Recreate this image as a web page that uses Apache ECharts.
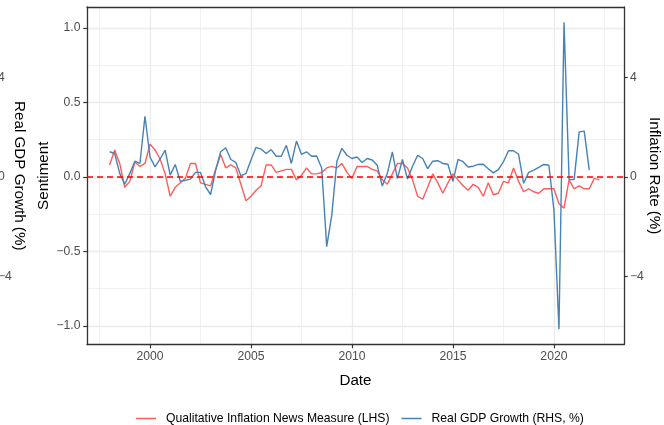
<!DOCTYPE html>
<html>
<head>
<meta charset="utf-8">
<script src="https://cdn.jsdelivr.net/npm/echarts@6/dist/echarts.min.js"></script>
<style>
  html, body { margin: 0; padding: 0; background: #fff; }
  #chart { width: 664px; height: 425px; }
</style>
</head>
<body>
<div id="chart"></div>
<script>
// quarterly observations, first quarter 1998Q1
const startYear = 1998
// qualitative inflation news measure (sentiment, LHS)
const inflationNews = [
  0.08, 0.18, 0.09, -0.07, -0.03, 0.10, 0.07, 0.09,
  0.22, 0.18, 0.12, 0.02, -0.13, -0.07, -0.04, -0.01,
  0.09, 0.09, -0.04, -0.05, -0.06, 0.05, 0.15, 0.06,
  0.08, 0.06, -0.05, -0.16, -0.13, -0.09, -0.06, 0.08,
  0.08, 0.03, 0.04, 0.05, 0.05, -0.02, 0.01, 0.06,
  0.02, 0.02, 0.03, 0.06, 0.07, 0.06, 0.09, 0.03,
  -0.01, 0.07, 0.07, 0.07, 0.05, 0.04, -0.02, -0.05,
  0.02, 0.09, 0.09, 0.06, -0.02, -0.13, -0.15, -0.07,
  0.02, -0.04, -0.11, -0.04, 0.02, -0.02, -0.06, -0.09,
  -0.05, -0.07, -0.13, -0.04, -0.12, -0.11, -0.03, -0.04,
  0.06, -0.03, -0.10, -0.08, -0.10, -0.11, -0.08, -0.08,
  -0.08, -0.18, -0.21, -0.02, -0.08, -0.06, -0.08, -0.08,
  -0.01, -0.02
]
// real GDP growth, % (RHS)
const gdpGrowth = [
  1.01, 0.94, 0.14, -0.30, 0.14, 0.63, 0.54, 2.44,
  0.80, 0.40, 0.72, 1.08, 0.07, 0.50, -0.18, -0.14,
  -0.09, 0.18, 0.18, -0.40, -0.71, 0.27, 1.01, 1.17,
  0.70, 0.58, 0.04, 0.14, 0.68, 1.19, 1.12, 0.94,
  1.10, 0.83, 0.83, 1.27, 0.54, 1.44, 0.91, 1.01,
  0.83, 0.84, 0.36, -2.81, -1.54, 0.61, 1.15, 0.87,
  0.74, 0.80, 0.58, 0.74, 0.68, 0.47, -0.37, 0.14,
  1.01, -0.07, 0.70, -0.09, 0.43, 0.87, 0.74, 0.33,
  0.63, 0.65, 0.54, 0.51, -0.18, 0.70, 0.61, 0.40,
  0.43, 0.50, 0.51, 0.33, 0.16, 0.29, 0.61, 1.05,
  1.05, 0.91, -0.26, 0.18, 0.27, 0.38, 0.50, 0.47,
  -1.34, -6.13, 6.22, -0.11, -0.11, 1.81, 1.84, 0.27
]
const yearTicks = [2000, 2005, 2010, 2015, 2020]
const yearMinor = [1997.5, 2002.5, 2007.5, 2012.5, 2017.5, 2022.5]
const sentTicks = [-1, -0.5, 0, 0.5, 1]
const sentMinor = [-0.75, -0.25, 0.25, 0.75]
const rateTicks = [-4, 0, 4]
const seriesNames = ['Qualitative Inflation News Measure (LHS)', 'Real GDP Growth (RHS, %)']

const FONT = 'Liberation Sans'
const minus = (s) => String(s).replace('-', '\u2212')
const pairs = (vals) => vals.map((v, i) => [startYear + i * 0.25, v])

const chart = echarts.init(document.getElementById('chart'))
const border = { show: true, onZero: false, lineStyle: { color: '#333333', width: 1.3 } }
const grey = '#EBEBEB'

chart.setOption({
  backgroundColor: '#fff',
  animation: false,
  textStyle: { fontFamily: FONT },
  grid: { left: 87, right: 40, top: 7, bottom: 80.5, outerBoundsMode: 'none', containLabel: false },
  legend: {
    data: seriesNames,
    icon: 'rect',
    left: 136,
    top: 412.5,
    padding: 0,
    itemWidth: 20,
    itemHeight: 1.5,
    itemGap: 12,
    textStyle: { fontSize: 12.2, color: '#000', fontFamily: FONT, padding: [0, 0, 0, 5] }
  },
  xAxis: [{
    type: 'value',
    min: 1996.88,
    max: 2023.47,
    position: 'bottom',
    name: 'Date',
    nameLocation: 'middle',
    nameGap: 29,
    nameMoveOverlap: false,
    nameTextStyle: { fontSize: 15.2, color: '#000', fontFamily: FONT },
    axisLine: border,
    axisTick: { show: true, length: 3.8, customValues: yearTicks, lineStyle: { color: '#333333', width: 1.2 } },
    axisLabel: {
      customValues: yearTicks, margin: 6.5, fontSize: 12.2, color: '#4D4D4D', fontFamily: FONT,
      formatter: (v) => String(v)
    },
    splitLine: { show: true, lineStyle: { color: grey, width: 1.3 } }
  }, {
    // minor vertical grid + top border
    type: 'value',
    min: 1996.88,
    max: 2023.47,
    position: 'top',
    axisLine: border,
    axisTick: { show: false, customValues: yearMinor },
    axisLabel: { show: false },
    splitLine: { show: true, lineStyle: { color: grey, width: 0.7 } }
  }],
  yAxis: [{
    type: 'value',
    min: -1.125,
    max: 1.14,
    position: 'left',
    name: 'Sentiment',
    nameLocation: 'middle',
    nameGap: 36,
    nameMoveOverlap: false,
    nameTextStyle: { fontSize: 15.2, color: '#000', fontFamily: FONT },
    axisLine: border,
    axisTick: { show: true, length: 3.8, customValues: sentTicks, lineStyle: { color: '#333333', width: 1.2 } },
    axisLabel: {
      customValues: sentTicks, margin: 6.5, fontSize: 12.2, color: '#4D4D4D', fontFamily: FONT,
      formatter: (v) => minus(v.toFixed(1))
    },
    splitLine: { show: true, lineStyle: { color: grey, width: 1.3 } }
  }, {
    type: 'value',
    min: -6.75,
    max: 6.84,
    position: 'right',
    name: 'Inflation Rate (%)',
    nameLocation: 'middle',
    nameRotate: -90,
    nameGap: 22.5,
    nameMoveOverlap: false,
    nameTextStyle: { fontSize: 15.2, color: '#000', fontFamily: FONT },
    axisLine: border,
    axisTick: { show: true, length: 3.8, customValues: rateTicks, lineStyle: { color: '#333333', width: 1.2 } },
    axisLabel: {
      customValues: rateTicks, margin: 6, fontSize: 12.2, color: '#4D4D4D', fontFamily: FONT,
      formatter: (v) => minus(v)
    },
    splitLine: { show: false }
  }, {
    // stray GDP axis at the far left edge
    type: 'value',
    min: -6.75,
    max: 6.84,
    position: 'left',
    offset: 60,
    name: 'Real GDP Growth (%)',
    nameLocation: 'middle',
    nameRotate: -90,
    nameGap: 0.6,
    nameMoveOverlap: false,
    nameTextStyle: { fontSize: 15.2, color: '#000', fontFamily: FONT },
    axisLine: { show: false },
    axisTick: { show: false, customValues: rateTicks },
    axisLabel: {
      customValues: rateTicks, margin: 29, align: 'left', fontSize: 12.2, color: '#4D4D4D', fontFamily: FONT,
      formatter: (v) => minus(v)
    },
    splitLine: { show: false }
  }, {
    // minor horizontal grid
    type: 'value',
    min: -1.125,
    max: 1.14,
    position: 'left',
    axisLine: { show: false },
    axisTick: { show: false, customValues: sentMinor },
    axisLabel: { show: false },
    splitLine: { show: true, lineStyle: { color: grey, width: 0.7 } }
  }],
  series: [{
    name: seriesNames[0],
    type: 'line',
    xAxisIndex: 0,
    yAxisIndex: 0,
    symbol: 'none',
    lineStyle: { color: '#FF5C5C', width: 1.4 },
    itemStyle: { color: '#FF5C5C' },
    data: pairs(inflationNews),
    markLine: {
      silent: true,
      symbol: ['none', 'none'],
      label: { show: false },
      lineStyle: { color: '#FF0000', type: [6, 4], width: 1.5 },
      data: [{ yAxis: 0 }],
      z: 10
    }
  }, {
    name: seriesNames[1],
    type: 'line',
    xAxisIndex: 0,
    yAxisIndex: 1,
    symbol: 'none',
    lineStyle: { color: '#4682B4', width: 1.4 },
    itemStyle: { color: '#4682B4' },
    data: pairs(gdpGrowth)
  }]
})
</script>
</body>
</html>
